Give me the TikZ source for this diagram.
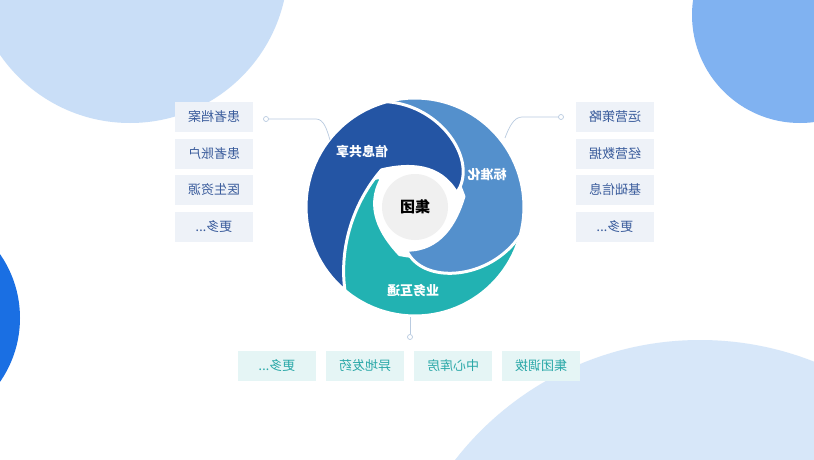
\documentclass[tikz,border=0pt]{standalone}
\usepackage{fontspec}
\newfontfamily\cjk{Noto Sans CJK SC}
\definecolor{bgA}{HTML}{C9DEF7}
\definecolor{bgB}{HTML}{80B2F1}
\definecolor{bgC}{HTML}{1A6FE3}
\definecolor{bgD}{HTML}{D7E7F9}
\definecolor{dk}{HTML}{2455A4}
\definecolor{lb}{HTML}{5490CC}
\definecolor{tl}{HTML}{22B2B2}
\definecolor{boxL}{HTML}{EEF2F8}
\definecolor{txL}{HTML}{3A5C9C}
\definecolor{boxT}{HTML}{E5F5F5}
\definecolor{txT}{HTML}{2AA8A8}
\definecolor{lineC}{HTML}{B9CBE0}
\begin{document}
\begin{tikzpicture}[x=1pt,y=-1pt,
  mir/.style={xscale=-1},
  lbox/.style={mir,fill=boxL,minimum width=78pt,minimum height=30pt,inner sep=0pt,text=txL,font=\cjk\fontsize{13}{13}\selectfont},
  tbox/.style={mir,fill=boxT,minimum width=78pt,minimum height=30pt,inner sep=0pt,text=txT,font=\cjk\fontsize{13}{13}\selectfont},
  plab/.style={mir,text=white,font=\cjk\bfseries\fontsize{13}{13}\selectfont},
  petal/.style={draw=white,line width=3pt,line join=round},
  conn/.style={draw=lineC,line width=0.7pt},
  dot/.style={circle,draw=lineC,fill=white,line width=0.7pt,inner sep=0pt,minimum size=5pt}]
\useasboundingbox (0,0) rectangle (814,460);
\fill[white] (0,0) rectangle (814,460);
\begin{scope}
\clip (0,0) rectangle (814,460);
\fill[bgA] (130,-35) circle[radius=158];
\fill[bgB] (800,15) circle[radius=108];
\fill[bgC] (-92,318) circle[radius=112];
\fill[bgD] (700,650) circle[radius=310];
\end{scope}
\begin{scope}[shift={(415,207)}]
\foreach \a/\c in {240/tl,120/lb,0/dk}{
 \path[petal,fill=\c] plot[domain=\a+130:\a+255,samples=40] (\x:109)
   .. controls (\a+285:105) and (\a+325:78) .. (\a+341:44)
   .. controls (\a+300:50) and (\a+262:44) .. (\a+228:50)
   .. controls (\a+190:58) and (\a+156:84) .. (\a+130:109) -- cycle;
}
\end{scope}
\fill[white] (415,207) circle[radius=37];
\node[circle,fill=black!6,minimum size=66pt,inner sep=0pt,mir,font=\cjk\bfseries\fontsize{15}{15}\selectfont] (core) at (415,207) {集团};
\node[plab] (p1) at (362,152) {信息共享};
\node[plab] (p2) at (487,175) {标准化};
\node[plab] (p3) at (413,291) {业务互通};
\node[lbox] (l1) at (214,117) {患者档案};
\node[lbox] (l2) at (214,154) {患者账户};
\node[lbox] (l3) at (214,190) {医生资源};
\node[lbox] (l4) at (214,227) {更多...};
\node[lbox] (r1) at (615,117) {运营策略};
\node[lbox] (r2) at (615,154) {经营数据};
\node[lbox] (r3) at (615,190) {基础信息};
\node[lbox] (r4) at (615,227) {更多...};
\node[tbox] (b1) at (277,366) {更多...};
\node[tbox] (b2) at (365,366) {异地发药};
\node[tbox] (b3) at (453,366) {中心库房};
\node[tbox] (b4) at (541,366) {集团调拨};
\node[dot] (dl) at (266,119) {};
\coordinate (el) at (330,140);
\draw[conn] (dl) -- (316,119) .. controls (324,119) and (327,130) .. (el);
\node[dot] (dr) at (561,117) {};
\coordinate (er) at (505,138);
\draw[conn] (dr) -- (522,117) .. controls (514,117) and (509,127) .. (er);
\node[dot] (db) at (410,337) {};
\coordinate (eb) at (410,317);
\draw[conn] (eb) -- (db);
\end{tikzpicture}
\end{document}
